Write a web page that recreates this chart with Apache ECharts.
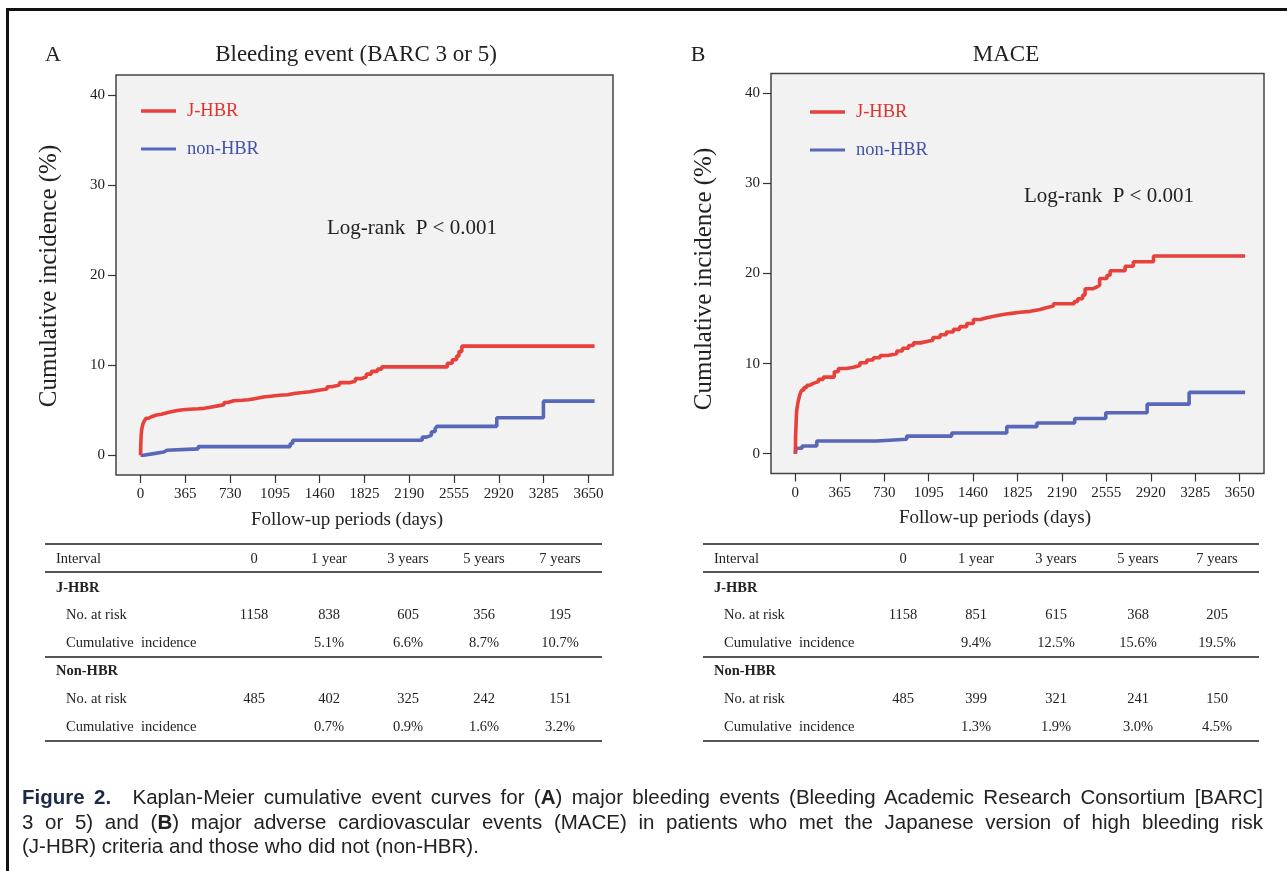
<!DOCTYPE html>
<html>
<head>
<meta charset="utf-8">
<script src="https://cdn.jsdelivr.net/npm/echarts@6/dist/echarts.min.js"></script>
<style>
  html, body { margin: 0; padding: 0; background: #fff; overflow: hidden; }
  #chart { position: absolute; left: 0; top: 0; width: 1287px; height: 871px; }
  #frame { position: absolute; left: 6px; top: 8px; width: 1300px; height: 900px;
           border-top: 3px solid #111; border-left: 3px solid #111; }
  #caption { position: absolute; left: 22px; top: 785px; width: 1241px;
             font-family: "Liberation Sans", Arial, sans-serif;
             font-size: 20.5px; line-height: 24.5px; color: #222; }
  #caption div.j { text-align: justify; text-align-last: justify; }
  #caption b.fig { color: #1c2a4a; margin-right: 12px; }
</style>
</head>
<body>
<div id="frame"></div>
<div id="chart"></div>
<div id="caption">
  <div class="j"><b class="fig">Figure 2.</b> Kaplan-Meier cumulative event curves for (<b>A</b>) major bleeding events (Bleeding Academic Research Consortium [BARC]</div>
  <div class="j">3 or 5) and (<b>B</b>) major adverse cardiovascular events (MACE) in patients who met the Japanese version of high bleeding risk</div>
  <div>(J-HBR) criteria and those who did not (non-HBR).</div>
</div>
<script>
// ---- data ----
var xTicks = [0, 365, 730, 1095, 1460, 1825, 2190, 2555, 2920, 3285, 3650];
var yTicks = [0, 10, 20, 30, 40];

// panel A, bleeding (day, cumulative %)
var bleedJ = [[0,0],[2,1.2],[5,2.2],[10,2.9],[18,3.4],[30,3.8],[45,4.1],[65,4.3],[95,4.45],[130,4.55],
  [170,4.7],[215,4.85],[260,4.95],[300,5.05],[345,5.1],[400,5.15],[470,5.2],[520,5.35],[580,5.5],[640,5.6],
  [680,5.85],[710,6.05],[760,6.1],[830,6.15],[880,6.3],[940,6.45],[1000,6.55],[1060,6.65],[1130,6.7],
  [1200,6.85],[1250,6.95],[1320,7.05],[1380,7.2],[1450,7.35],[1520,7.6],[1560,7.8],[1620,8.05],[1700,8.2],
  [1750,8.5],[1800,8.7],[1840,9.0],[1880,9.3],[1930,9.55],[1965,9.8],[2500,10.2],[2540,10.6],[2575,11.0],
  [2595,11.5],[2618,12.1],[3700,12.1]];
var bleedN = [[0,0],[25,0.2],[120,0.35],[190,0.55],[215,0.7],[470,0.95],[1220,1.3],[1240,1.65],[2295,2.0],
  [2330,2.2],[2370,2.6],[2400,2.9],[2414,3.2],[2903,4.15],[3283,6.0],[3700,6.0]];

// panel B, MACE (day, cumulative %)
var maceJ = [[0,0],[2,1.9],[5,3.0],[8,4.0],[11,4.8],[18,5.4],[25,5.9],[38,6.6],[52,7.05],[70,7.35],[94,7.6],
  [120,7.8],[148,8.0],[190,8.25],[230,8.5],[320,9.1],[353,9.45],[420,9.6],[477,9.8],[530,10.1],[587,10.4],
  [640,10.65],[696,10.9],[760,11.1],[833,11.4],[880,11.7],[930,12.0],[970,12.3],[1030,12.45],[1080,12.6],
  [1130,12.9],[1189,13.2],[1240,13.5],[1298,13.8],[1350,14.1],[1408,14.45],[1463,14.9],[1520,15.1],
  [1573,15.25],[1630,15.4],[1682,15.55],[1760,15.7],[1846,15.8],[1930,16.0],[2011,16.2],[2060,16.4],
  [2120,16.65],[2290,16.9],[2320,17.2],[2360,17.6],[2380,18.3],[2440,18.5],[2476,18.7],[2500,19.45],
  [2560,19.8],[2586,20.3],[2709,20.8],[2777,21.3],[2942,21.95],[3695,21.95]];
var maceN = [[0,0],[5,0.6],[55,0.85],[176,1.4],[669,1.6],[915,1.95],[1285,2.3],[1737,3.0],[1984,3.4],
  [2295,3.9],[2550,4.55],[2890,5.5],[3235,6.8],[3695,6.8]];

// risk tables
var tableCols = ['0', '1 year', '3 years', '5 years', '7 years'];
var bleedRiskJ = ['1158', '838', '605', '356', '195'];
var bleedIncJ = ['', '5.1%', '6.6%', '8.7%', '10.7%'];
var bleedRiskN = ['485', '402', '325', '242', '151'];
var bleedIncN = ['', '0.7%', '0.9%', '1.6%', '3.2%'];
var maceRiskJ = ['1158', '851', '615', '368', '205'];
var maceIncJ = ['', '9.4%', '12.5%', '15.6%', '19.5%'];
var maceRiskN = ['485', '399', '321', '241', '150'];
var maceIncN = ['', '1.3%', '1.9%', '3.0%', '4.5%'];

var serif = '"Liberation Serif", "Times New Roman", serif';
var red = '#e8403a';
var blue = '#5867b8';

function makeGrid(left, top, width) {
  return {
    left: left, top: top, width: width, height: 400,
    show: true, backgroundColor: '#f2f2f2', borderColor: '#444', borderWidth: 1.5,
    containLabel: false, outerBoundsMode: 'none'
  };
}

function makeX(idx) {
  return {
    type: 'value', gridIndex: idx, min: -200, max: 3850,
    axisLine: { show: false, onZero: false }, splitLine: { show: false },
    axisTick: { show: true, length: 8, customValues: xTicks, lineStyle: { color: '#333', width: 1.2 } },
    axisLabel: { customValues: xTicks, margin: 12, fontFamily: serif, fontSize: 15, color: '#222',
      formatter: function (v) { return String(v); } }
  };
}

function makeY(idx) {
  return {
    type: 'value', gridIndex: idx, min: -2.2, max: 42.2,
    axisLine: { show: false, onZero: false }, splitLine: { show: false },
    axisTick: { show: true, length: 8, customValues: yTicks, lineStyle: { color: '#333', width: 1.2 } },
    axisLabel: { customValues: yTicks, margin: 11, fontFamily: serif, fontSize: 15, color: '#222',
      formatter: function (v) { return String(v); } }
  };
}

function curve(data, color, idx) {
  return {
    type: 'line', step: 'end', data: data, xAxisIndex: idx, yAxisIndex: idx,
    showSymbol: false, silent: true, animation: false,
    lineStyle: { color: color, width: 3.6 }
  };
}

function txt(x, y, s, opt) {
  opt = opt || {};
  return {
    type: 'text', x: x, y: y, rotation: opt.rotation || 0,
    style: {
      text: s, fill: opt.color || '#222', fontFamily: serif,
      fontSize: opt.size || 14.5, fontWeight: opt.bold ? 'bold' : 'normal',
      align: opt.align || 'left', verticalAlign: 'middle'
    }
  };
}

function hline(x1, x2, y, color, w) {
  return { type: 'line', shape: { x1: x1, y1: y, x2: x2, y2: y }, style: { stroke: color, lineWidth: w } };
}

// panel decorations: letter, title, legend, log-rank note, axis names
function panelGraphics(p) {
  return [
    txt(p.letterX, 55, p.letter, { size: 22, align: 'center' }),
    txt(p.titleX, 55, p.title, { size: 23, align: 'center' }),
    hline(p.legX, p.legX + 35, p.legY, red, 3.5),
    txt(p.legX + 46, p.legY, 'J-HBR', { size: 18.5, color: '#e0332d' }),
    hline(p.legX, p.legX + 35, p.legY + 38, blue, 3),
    txt(p.legX + 46, p.legY + 38, 'non-HBR', { size: 18.5, color: '#4352a8' }),
    txt(p.logX, p.logY, 'Log-rank  P < 0.001', { size: 21 }),
    txt(p.xNameX, p.xNameY, 'Follow-up periods (days)', { size: 19, align: 'center' }),
    txt(p.yNameX, p.yNameY, 'Cumulative incidence (%)', { size: 25, align: 'center', rotation: Math.PI / 2 })
  ];
}

function tableGraphics(t) {
  var out = [];
  var rows = [544, 559, 572, 588, 615, 643, 657, 671, 699, 727, 741];
  out.push(hline(t.x1, t.x2, rows[0], '#555', 2));
  out.push(txt(t.x1 + 11, rows[1], 'Interval'));
  out.push(hline(t.x1, t.x2, rows[2], '#555', 2));
  out.push(txt(t.x1 + 11, rows[3], 'J-HBR', { bold: true }));
  out.push(txt(t.x1 + 21, rows[4], 'No. at risk'));
  out.push(txt(t.x1 + 21, rows[5], 'Cumulative  incidence'));
  out.push(hline(t.x1, t.x2, rows[6], '#555', 2));
  out.push(txt(t.x1 + 11, rows[7], 'Non-HBR', { bold: true }));
  out.push(txt(t.x1 + 21, rows[8], 'No. at risk'));
  out.push(txt(t.x1 + 21, rows[9], 'Cumulative  incidence'));
  out.push(hline(t.x1, t.x2, rows[10], '#555', 2));
  for (var i = 0; i < tableCols.length; i++) {
    var cx = t.cols[i];
    out.push(txt(cx, rows[1], tableCols[i], { align: 'center' }));
    out.push(txt(cx, rows[4], t.riskJ[i], { align: 'center' }));
    out.push(txt(cx, rows[5], t.incJ[i], { align: 'center' }));
    out.push(txt(cx, rows[8], t.riskN[i], { align: 'center' }));
    out.push(txt(cx, rows[9], t.incN[i], { align: 'center' }));
  }
  return out;
}

var graphics = [].concat(
  panelGraphics({ letter: 'A', letterX: 53, title: 'Bleeding event (BARC 3 or 5)', titleX: 356,
    legX: 141, legY: 111, logX: 327, logY: 228, xNameX: 347, xNameY: 520, yNameX: 49, yNameY: 276 }),
  panelGraphics({ letter: 'B', letterX: 698, title: 'MACE', titleX: 1006,
    legX: 810, legY: 112, logX: 1024, logY: 196, xNameX: 995, xNameY: 518, yNameX: 704, yNameY: 279 }),
  tableGraphics({ x1: 45, x2: 602, cols: [254, 329, 408, 484, 560],
    riskJ: bleedRiskJ, incJ: bleedIncJ, riskN: bleedRiskN, incN: bleedIncN }),
  tableGraphics({ x1: 703, x2: 1259, cols: [903, 976, 1056, 1138, 1217],
    riskJ: maceRiskJ, incJ: maceIncJ, riskN: maceRiskN, incN: maceIncN })
);

var option = {
  animation: false,
  grid: [makeGrid(116, 75, 497), makeGrid(771, 73.5, 493)],
  xAxis: [makeX(0), makeX(1)],
  yAxis: [makeY(0), makeY(1)],
  series: [
    curve(bleedN, blue, 0),
    curve(bleedJ, red, 0),
    curve(maceN, blue, 1),
    curve(maceJ, red, 1)
  ],
  graphic: graphics
};

var myChart = echarts.init(document.getElementById('chart'));
myChart.setOption(option);
window.addEventListener('resize', function () {
  myChart.resize();
});
</script>
</body>
</html>
